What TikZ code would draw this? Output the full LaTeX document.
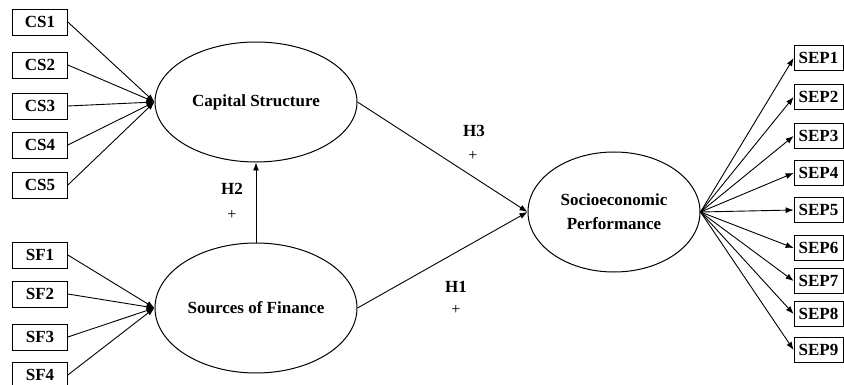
\documentclass[tikz,border=0pt]{standalone}
\usepackage{fontspec}
\setmainfont{Liberation Serif}
\usetikzlibrary{arrows.meta,shapes.geometric}

\tikzset{
  item/.style={draw, line width=0.7pt, minimum width=55pt, minimum height=26pt, inner sep=0pt, font=\bfseries\fontsize{17}{19}\selectfont},
  sepitem/.style={item, minimum width=49pt, minimum height=25pt},
  construct/.style={draw, ellipse, line width=1pt, inner sep=0pt, align=center, font=\bfseries\fontsize{17}{24}\selectfont},
  path/.style={-{Latex[length=8pt,width=6pt]}, line width=0.9pt},
  hyp/.style={font=\bfseries\fontsize{17}{19}\selectfont},
  sign/.style={font=\fontsize{16}{18}\selectfont}
}

\begin{document}
\begin{tikzpicture}[x=1pt, y=-1pt]
	\useasboundingbox (0,0) rectangle (844,385);
	% latent constructs
	\node[construct, minimum width=202pt, minimum height=120pt] (CS) at (256,102) {Capital Structure};
	\node[construct, minimum width=202pt, minimum height=130pt] (SF) at (256,308) {Sources of Finance};
	\node[construct, minimum width=172pt, minimum height=120pt] (SEP) at (614,212) {Socioeconomic\\Performance};
	% indicators
	\foreach \i/\y in {1/22, 2/65, 3/106, 4/145, 5/185}
		\node[item] (CS\i) at (40,\y) {CS\i};
	\foreach \i/\y in {1/255, 2/294, 3/337, 4/375}
		\node[item] (SF\i) at (40,\y) {SF\i};
	\foreach \i/\y in {1/58, 2/97, 3/136, 4/173, 5/210, 6/248, 7/281, 8/314, 9/350}
		\node[sepitem] (SEP\i) at (818.5,\y) {SEP\i};
	% loadings
	\foreach \i in {1,...,5}
		\draw[path] (CS\i.east) -- (CS.west);
	\foreach \i in {1,...,4}
		\draw[path] (SF\i.east) -- (SF.west);
	\foreach \i in {1,...,9}
		\draw[path] (SEP.east) -- (SEP\i.west);
	% hypotheses
	\draw[path] (SF.north) -- (CS.south);
	\draw[path] (CS.east) -- (SEP.west);
	\draw[path] (SF.east) -- (SEP.west);
	\node[hyp] (h2) at (232,189) {H2};
	\node[sign] (p2) at (232,215) {+};
	\node[hyp] (h3) at (474,131) {H3};
	\node[sign] (p3) at (473,156) {+};
	\node[hyp] (h1) at (456,287) {H1};
	\node[sign] (p1) at (456,310) {+};
\end{tikzpicture}
\end{document}
